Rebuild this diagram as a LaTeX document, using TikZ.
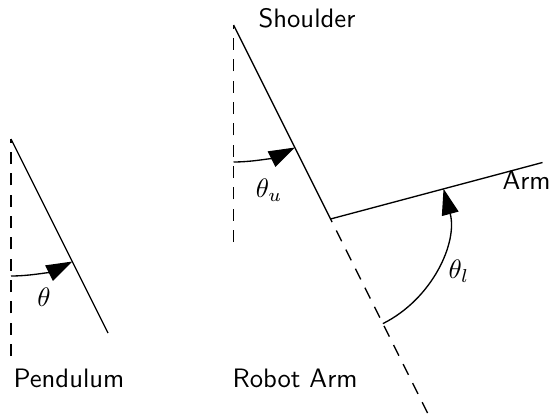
\documentclass[tikz,border=0pt]{standalone}
\usetikzlibrary{arrows.meta}
\begin{document}
\begin{tikzpicture}[x=0.375pt,y=-0.375pt,
  link/.style={line width=0.5pt},
  ref/.style={line width=0.5pt, dash pattern=on 4.5pt off 3.5pt},
  ang/.style={line width=0.5pt, -{Triangle[length=9.75pt,width=6.4pt]}},
  every node/.style={inner sep=0pt},
  lbl/.style={font=\sffamily, anchor=base west}]
\useasboundingbox (0,0) rectangle (551,417);
% Pendulum
\coordinate (P) at (11,139);
\coordinate (Pend) at (108,333);
\coordinate (Pdown) at (11,356);
\draw[ref] (Pdown) -- (P);
\draw[link] (P) -- (Pend);
\draw[ang] (P) ++(90:137) arc[start angle=90,end angle=63.43,radius=137];
% Robot arm
\coordinate (S) at (233.5,25);
\coordinate (E) at (330.5,219);
\coordinate (Sdown) at (233.5,242);
\coordinate (Eext) at (427.5,413);
\coordinate (A) at (542.5,162.5);
\draw[ref] (Sdown) -- (S);
\draw[link] (S) -- (E) -- (A);
\draw[ref] (Eext) -- (E);
\draw[ang] (S) ++(90:137) arc[start angle=90,end angle=63.43,radius=137];
\draw[ang] (E) ++(63.43:117) arc[start angle=63.43,end angle=-15,radius=117];
% Labels
\node[lbl] (pl) at (13,387) {Pendulum};
\node[lbl] (rl) at (232,387) {Robot Arm};
\node[lbl] (sl) at (258,28) {Shoulder};
\node[lbl] (al) at (502,189) {Arm};
\node (t) at (44,297) {$\theta$};
\node (tu) at (269,190) {$\theta_u$};
\node (tl) at (459,271) {$\theta_l$};
\end{tikzpicture}
\end{document}
